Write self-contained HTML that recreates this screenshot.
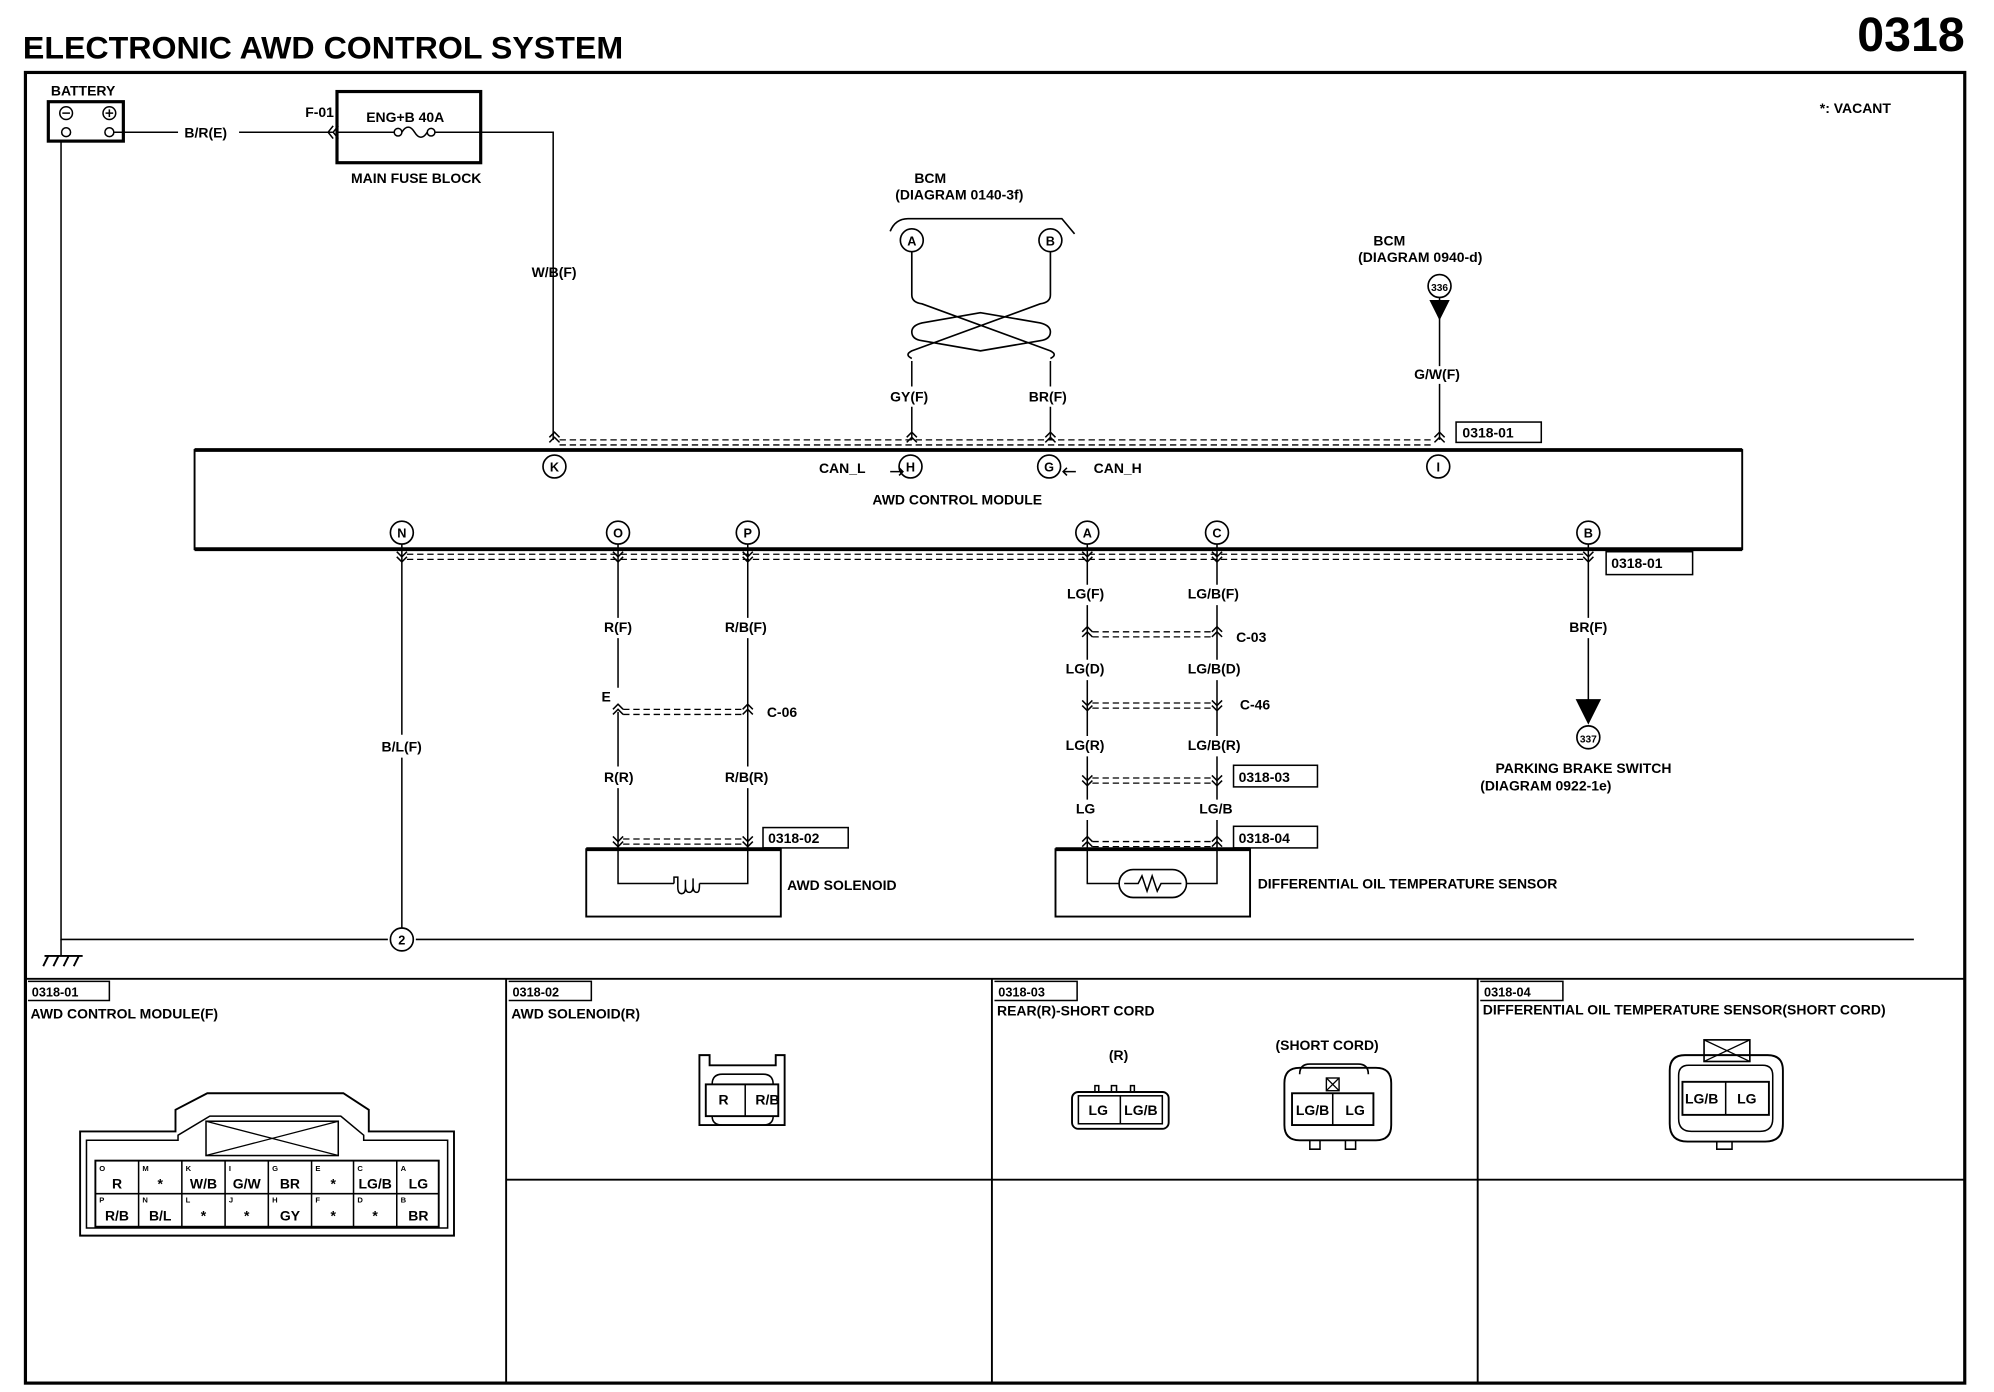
<!DOCTYPE html>
<html><head><meta charset="utf-8"><style>
html,body{margin:0;padding:0;background:#fff;}
svg{display:block}
text{font-family:"Liberation Sans",sans-serif;fill:#000;}
</style></head><body>
<svg width="1994" height="1392" viewBox="0 0 1568 1095" preserveAspectRatio="none" xmlns="http://www.w3.org/2000/svg">
<defs>
<g id="dn"><path d="M-4,-4 L0,0 L4,-4 M-4,0 L0,4 L4,0" fill="none" stroke="#000" stroke-width="1.2"/></g>
<g id="up"><path d="M-4,4 L0,0 L4,4 M-4,0 L0,-4 L4,0" fill="none" stroke="#000" stroke-width="1.2"/></g>
</defs>
<g font-weight="bold">
<text x="18" y="46" font-size="25" textLength="472" lengthAdjust="spacingAndGlyphs">ELECTRONIC AWD CONTROL SYSTEM</text>
<text x="1545" y="40" font-size="38" text-anchor="end">0318</text>
</g>
<g fill="none" stroke="#000">
<rect x="20" y="57" width="1525" height="1031" stroke-width="2.5"/>
<rect x="38" y="80" width="59" height="31" stroke-width="2.5"/>
<circle cx="52" cy="89" r="5" stroke-width="1.2"/><circle cx="86" cy="89" r="5" stroke-width="1.2"/>
<circle cx="52" cy="104" r="3.5" stroke-width="1.2"/><circle cx="86" cy="104" r="3.5" stroke-width="1.2"/>
<path d="M49,89h6M83,89h6M86,86v6" stroke-width="1.2"/>
<path d="M90,104H140M188,104H262" stroke-width="1.2"/>
<path d="M262,99l-4,5l4,5M266,99l-4,5l4,5" stroke-width="1.2"/>
<rect x="265" y="72" width="113" height="56" stroke-width="2.5"/>
<path d="M265,104H310M342,104H435V346" stroke-width="1.2"/>
<circle cx="313" cy="104" r="3" stroke-width="1.2"/><circle cx="339" cy="104" r="3" stroke-width="1.2"/>
<path d="M316,104q5,-8 10,0q5,8 10,0" stroke-width="1.2"/>
<path d="M48,111V739H305M327,739H1505" stroke-width="1.2"/>
<path d="M35,752H65M38,752l-4,8M46,752l-4,8M54,752l-4,8M62,752l-4,8" stroke-width="1.5"/>
<path d="M48,739V752" stroke-width="1.2"/>
<rect x="153" y="354" width="1217" height="78" stroke-width="1.5"/>
<path d="M153,354H1370M153,432H1370" stroke-width="3"/>
<path d="M440,346H1128M440,350H1128" stroke-width="1" stroke-dasharray="5,3"/>
<path d="M320,436H1246M320,440H1246" stroke-width="1" stroke-dasharray="5,3"/>
<circle cx="436" cy="367" r="9" stroke-width="1.3"/>
<circle cx="716" cy="367" r="9" stroke-width="1.3"/>
<circle cx="825" cy="367" r="9" stroke-width="1.3"/>
<circle cx="1131" cy="367" r="9" stroke-width="1.3"/>
<circle cx="316" cy="419" r="9" stroke-width="1.3"/>
<circle cx="486" cy="419" r="9" stroke-width="1.3"/>
<circle cx="588" cy="419" r="9" stroke-width="1.3"/>
<circle cx="855" cy="419" r="9" stroke-width="1.3"/>
<circle cx="957" cy="419" r="9" stroke-width="1.3"/>
<circle cx="1249" cy="419" r="9" stroke-width="1.3"/>
<path d="M700,182q4,-10 14,-10H835l10,12" stroke-width="1.3"/>
<circle cx="717" cy="189" r="9" stroke-width="1.3"/><circle cx="826" cy="189" r="9" stroke-width="1.3"/>
<path d="M717,198V232q0,6 8,7L826,276q6,3 0,6 M826,198V232q0,6 -8,7L717,276q-6,3 0,6" stroke-width="1.3"/>
<path d="M771,246L725,254q-8,2 -8,7q0,6 8,7L771,276L818,268q8,-1 8,-7q0,-5 -8,-7Z" stroke-width="1.3"/>
<path d="M717,284V304M717,320V346M826,284V304M826,320V346" stroke-width="1.2"/>
<path d="M700,371h10M707,368l3,3l-3,3M836,371h10M839,368l-3,3l3,3" stroke-width="1.2"/>
<circle cx="1132" cy="225" r="9" stroke-width="1.3"/>
<path d="M1132,234V288M1132,302V346" stroke-width="1.2"/>
<rect x="1145" y="332" width="67" height="16" stroke-width="1.2"/>
<rect x="1263" y="434" width="68" height="18" stroke-width="1.2"/>
<path d="M1249,428V486M1249,502V555" stroke-width="1.2"/>
<circle cx="1249" cy="580" r="9" stroke-width="1.3"/>
<path d="M316,428V578M316,596V730" stroke-width="1.2"/>
<circle cx="316" cy="739" r="9" stroke-width="1.3"/>
<path d="M486,428V486M486,502V541M486,560V603M486,620V695H530M588,428V486M588,502V603M588,620V695H550" stroke-width="1.2"/>
<path d="M530,695v-5h3v8q0,5 3,5q3,0 3,-5v-6 M539,697q0,5 3,5q3,0 3,-5v-6 M545,697q0,5 3,5q2,0 2,-5v-2" stroke-width="1.2"/>
<path d="M490,558H584M490,562H584M490,660H584M490,664H584" stroke-width="1" stroke-dasharray="5,3"/>
<rect x="600" y="651" width="67" height="16" stroke-width="1.2"/>
<rect x="461" y="668" width="153" height="53" stroke-width="1.5"/>
<path d="M461,668H614" stroke-width="3"/>
<path d="M855,428V460M855,476V519M855,535V579M855,595V629M855,645V695H880M957,428V460M957,476V519M957,535V579M957,595V629M957,645V695H933" stroke-width="1.2"/>
<path d="M859,497H953M859,501H953M859,553H953M859,557H953M859,612H953M859,616H953M859,662H953M859,666H953" stroke-width="1" stroke-dasharray="5,3"/>
<rect x="970" y="602" width="66" height="17" stroke-width="1.2"/>
<rect x="970" y="650" width="66" height="17" stroke-width="1.2"/>
<rect x="830" y="668" width="153" height="53" stroke-width="1.5"/>
<path d="M830,668H983" stroke-width="3"/>
<rect x="880" y="684" width="53" height="22" rx="11" stroke-width="1.3"/>
<path d="M884,695H895l3,-6l4,12l4,-12l4,12l3,-6H929" stroke-width="1.2"/>
<path d="M20,770H1545M398,770V1088M780,770V1088M1162,770V1088M398,928H1545" stroke-width="1.5"/>
<path d="M22,772H86V787H22M400,772H465V787H400M782,772H847V787H782M1164,772H1229V787H1164" stroke-width="1.2"/>
<path d="M63,890H138V873L163,860H270L290,873V890H357V972H63Z" stroke-width="1.5"/>
<path d="M68,897H140V893L165,878H268L286,893V897H352V966H68Z" stroke-width="1.2"/>
<rect x="162" y="882" width="104" height="27" stroke-width="1.2"/><path d="M162,882L266,909M266,882L162,909" stroke-width="1"/>
<rect x="75" y="913" width="270" height="52" stroke-width="1.5"/>
<path d="M75,939H345M109,913V965M143,913V965M177,913V965M211,913V965M245,913V965M278,913V965M312,913V965" stroke-width="1.2"/>
<path d="M550,845V830H558V838H610V830H617V845V885H550Z" stroke-width="1.5"/>
<rect x="555" y="853" width="57" height="25" stroke-width="1.5"/><path d="M586,853V878" stroke-width="1.2"/>
<path d="M560,853q0,-8 8,-8H600q8,0 8,8M560,878q0,7 8,7H600q8,0 8,-7" stroke-width="1.2"/>
<rect x="843" y="859" width="76" height="29" rx="5" stroke-width="1.5"/>
<rect x="848" y="862" width="66" height="22" stroke-width="1.2"/><path d="M881,862V884" stroke-width="1.2"/>
<path d="M861,859v-5h3v5M874,859v-5h4v5M889,859v-5h3v5" stroke-width="1.2"/>
<path d="M1010,852q0,-12 12,-12H1082q12,0 12,12V885q0,12 -12,12H1022q-12,0 -12,-12Z" stroke-width="1.5"/>
<path d="M1022,845q0,-8 8,-8H1068q8,0 8,8" stroke-width="1.3"/>
<rect x="1016" y="860" width="64" height="25" stroke-width="1.5"/><path d="M1048,860V885" stroke-width="1.2"/>
<rect x="1043" y="848" width="10" height="10" stroke-width="1.1"/><path d="M1043,848l10,10M1053,848l-10,10" stroke-width="1"/>
<path d="M1030,897v7h8v-7M1058,897v7h8v-7" stroke-width="1.2"/>
<path d="M1313,842q0,-12 12,-12H1390q12,0 12,12V884q0,14 -14,14H1327q-14,0 -14,-14Z" stroke-width="1.5"/>
<path d="M1320,846q0,-8 8,-8H1386q8,0 8,8V880q0,10 -10,10H1330q-10,0 -10,-10Z" stroke-width="1.2"/>
<rect x="1340" y="818" width="36" height="17" stroke-width="1.3"/><path d="M1340,818l36,17M1376,818l-36,17" stroke-width="1"/>
<rect x="1323" y="851" width="68" height="26" stroke-width="1.5"/><path d="M1357,851V877" stroke-width="1.2"/>
<path d="M1350,898v6h12v-6" stroke-width="1.2"/>
</g>
<g fill="#000">
<path d="M1124,236H1140L1132,252Z"/>
<path d="M1239,550H1259L1249,570Z"/>
</g>
<use href="#up" x="436" y="344"/><use href="#up" x="717" y="344"/><use href="#up" x="826" y="344"/><use href="#up" x="1132" y="344"/>
<use href="#dn" x="316" y="438"/><use href="#dn" x="486" y="438"/><use href="#dn" x="588" y="438"/><use href="#dn" x="855" y="438"/><use href="#dn" x="957" y="438"/><use href="#dn" x="1249" y="438"/>
<use href="#up" x="486" y="558"/><use href="#up" x="588" y="558"/>
<use href="#dn" x="486" y="662"/><use href="#dn" x="588" y="662"/>
<use href="#up" x="855" y="497"/><use href="#up" x="957" y="497"/>
<use href="#dn" x="855" y="555"/><use href="#dn" x="957" y="555"/>
<use href="#dn" x="855" y="614"/><use href="#dn" x="957" y="614"/>
<use href="#up" x="855" y="662"/><use href="#up" x="957" y="662"/>
<g font-size="11" font-weight="bold">
<text x="40" y="75">BATTERY</text>
<text x="145" y="108">B/R(E)</text>
<text x="240" y="92">F-01</text>
<text x="288" y="96">ENG+B 40A</text>
<text x="276" y="144">MAIN FUSE BLOCK</text>
<text x="418" y="218">W/B(F)</text>
<text x="719" y="144">BCM</text>
<text x="704" y="157">(DIAGRAM 0140-3f)</text>
<text x="717" y="193" text-anchor="middle" font-size="10">A</text>
<text x="826" y="193" text-anchor="middle" font-size="10">B</text>
<text x="700" y="316">GY(F)</text>
<text x="809" y="316">BR(F)</text>
<text x="1080" y="193">BCM</text>
<text x="1068" y="206">(DIAGRAM 0940-d)</text>
<text x="1132" y="229" text-anchor="middle" font-size="8">336</text>
<text x="1112" y="298">G/W(F)</text>
<text x="1150" y="344">0318-01</text>
<text x="1431" y="89">*: VACANT</text>
<text x="436" y="371" text-anchor="middle" font-size="10">K</text>
<text x="716" y="371" text-anchor="middle" font-size="10">H</text>
<text x="825" y="371" text-anchor="middle" font-size="10">G</text>
<text x="1131" y="371" text-anchor="middle" font-size="10">I</text>
<text x="644" y="372">CAN_L</text>
<text x="860" y="372">CAN_H</text>
<text x="686" y="397">AWD CONTROL MODULE</text>
<text x="316" y="423" text-anchor="middle" font-size="10">N</text>
<text x="486" y="423" text-anchor="middle" font-size="10">O</text>
<text x="588" y="423" text-anchor="middle" font-size="10">P</text>
<text x="855" y="423" text-anchor="middle" font-size="10">A</text>
<text x="957" y="423" text-anchor="middle" font-size="10">C</text>
<text x="1249" y="423" text-anchor="middle" font-size="10">B</text>
<text x="1267" y="447">0318-01</text>
<text x="1234" y="497">BR(F)</text>
<text x="1249" y="584" text-anchor="middle" font-size="8">337</text>
<text x="1176" y="608">PARKING BRAKE SWITCH</text>
<text x="1164" y="622">(DIAGRAM 0922-1e)</text>
<text x="300" y="591">B/L(F)</text>
<text x="316" y="743" text-anchor="middle" font-size="10">2</text>
<text x="475" y="497">R(F)</text>
<text x="570" y="497">R/B(F)</text>
<text x="473" y="552">E</text>
<text x="603" y="564">C-06</text>
<text x="475" y="615">R(R)</text>
<text x="570" y="615">R/B(R)</text>
<text x="604" y="663">0318-02</text>
<text x="619" y="700">AWD SOLENOID</text>
<text x="839" y="471">LG(F)</text>
<text x="934" y="471">LG/B(F)</text>
<text x="972" y="505">C-03</text>
<text x="838" y="530">LG(D)</text>
<text x="934" y="530">LG/B(D)</text>
<text x="975" y="558">C-46</text>
<text x="838" y="590">LG(R)</text>
<text x="934" y="590">LG/B(R)</text>
<text x="974" y="615">0318-03</text>
<text x="846" y="640">LG</text>
<text x="943" y="640">LG/B</text>
<text x="974" y="663">0318-04</text>
<text x="989" y="699">DIFFERENTIAL OIL TEMPERATURE SENSOR</text>
<text x="25" y="784" font-size="10">0318-01</text>
<text x="403" y="784" font-size="10">0318-02</text>
<text x="785" y="784" font-size="10">0318-03</text>
<text x="1167" y="784" font-size="10">0318-04</text>
<text x="24" y="801">AWD CONTROL MODULE(F)</text>
<text x="402" y="801">AWD SOLENOID(R)</text>
<text x="784" y="799">REAR(R)-SHORT CORD</text>
<text x="1166" y="798">DIFFERENTIAL OIL TEMPERATURE SENSOR(SHORT CORD)</text>
<text x="872" y="834">(R)</text>
<text x="1003" y="826">(SHORT CORD)</text>
<text x="565" y="869">R</text><text x="594" y="869">R/B</text>
<text x="856" y="877">LG</text><text x="884" y="877">LG/B</text>
<text x="1019" y="877">LG/B</text><text x="1058" y="877">LG</text>
<text x="1325" y="868">LG/B</text><text x="1366" y="868">LG</text>
</g>
<g font-size="6" font-weight="bold">
<text x="78" y="921">O</text><text x="112" y="921">M</text><text x="146" y="921">K</text><text x="180" y="921">I</text><text x="214" y="921">G</text><text x="248" y="921">E</text><text x="281" y="921">C</text><text x="315" y="921">A</text>
<text x="78" y="946">P</text><text x="112" y="946">N</text><text x="146" y="946">L</text><text x="180" y="946">J</text><text x="214" y="946">H</text><text x="248" y="946">F</text><text x="281" y="946">D</text><text x="315" y="946">B</text>
</g>
<g font-size="11" font-weight="bold" text-anchor="middle">
<text x="92" y="935">R</text><text x="126" y="935">*</text><text x="160" y="935">W/B</text><text x="194" y="935">G/W</text><text x="228" y="935">BR</text><text x="262" y="935">*</text><text x="295" y="935">LG/B</text><text x="329" y="935">LG</text>
<text x="92" y="960">R/B</text><text x="126" y="960">B/L</text><text x="160" y="960">*</text><text x="194" y="960">*</text><text x="228" y="960">GY</text><text x="262" y="960">*</text><text x="295" y="960">*</text><text x="329" y="960">BR</text>
</g>
</svg>
</body></html>
